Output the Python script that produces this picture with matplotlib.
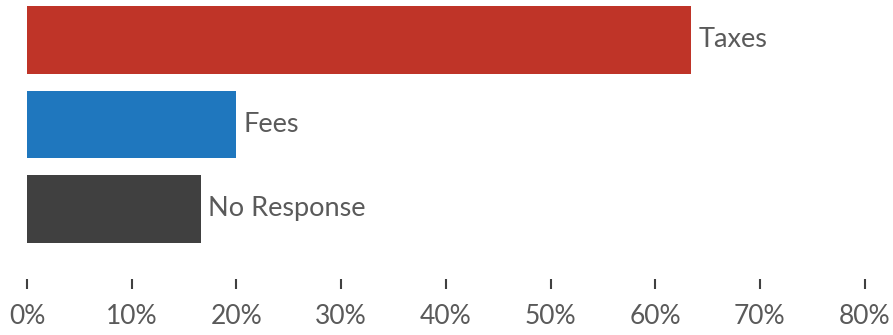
import matplotlib
matplotlib.use('Agg')
import matplotlib.pyplot as plt
from matplotlib.ticker import FuncFormatter

categories = ['Taxes', 'Fees', 'No Response']
shares = [63.4, 20.0, 16.6]
colors = ['#BF3428', '#1F77BE', '#404040']
x_ticks = [0, 10, 20, 30, 40, 50, 60, 70, 80]

plt.rcParams['font.family'] = ['Lato', 'DejaVu Sans']

fig = plt.figure(figsize=(8.93, 3.35), dpi=100)
# axes spans from the 0% tick (x=27px) to the 80% tick, top of image to tick base
ax = fig.add_axes([27 / 893, 1 - 279 / 335, (864.6 - 27) / 893, 279 / 335])

pos = list(range(len(categories)))
ax.barh(pos, shares, height=0.8, color=colors)

for p, v, name in zip(pos, shares, categories):
    ax.text(v + 0.7, p, name, va='center', ha='left', fontsize=19.5, color='#5a5a5a')

ax.set_xlim(0, 80)
ax.set_ylim(2.83, -0.473)
ax.set_xticks(x_ticks)
ax.xaxis.set_major_formatter(FuncFormatter(lambda v, _: f'{v:.0f}%'))
ax.tick_params(axis='x', direction='out', length=7.2, width=1.5, color='#404040',
               pad=11, labelsize=19, labelcolor='#5a5a5a')
ax.set_yticks([])
for s in ax.spines.values():
    s.set_visible(False)

fig.savefig('out.png', dpi=100)
